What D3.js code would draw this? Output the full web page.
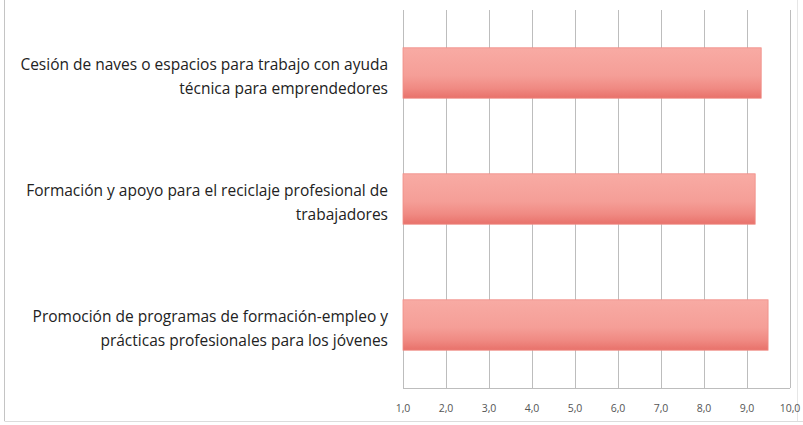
<!DOCTYPE html>
<html>
<head>
<meta charset="utf-8">
<script src="https://cdn.jsdelivr.net/npm/d3@7"></script>
<style>
body { margin: 0; background: #fff; }
svg { display: block; }
</style>
</head>
<body>
<svg id="chart" width="803" height="425"></svg>
<script>
// categories, top to bottom
var categories = [
  ["Cesión de naves o espacios para trabajo con ayuda", "técnica para emprendedores"],
  ["Formación y apoyo para el reciclaje profesional de", "trabajadores"],
  ["Promoción de programas de formación-empleo y", "prácticas profesionales para los jóvenes"]
];
var values = [9.33, 9.19, 9.49];
var ticks = [1, 2, 3, 4, 5, 6, 7, 8, 9, 10];

var svg = d3.select("#chart");
var plotLeft = 403, plotRight = 790, plotTop = 10, plotBottom = 388;

var x = d3.scaleLinear().domain([1, 10]).range([plotLeft, plotRight]);
var y = d3.scaleBand().domain(d3.range(categories.length)).range([plotTop, plotBottom]).paddingInner(0.6).paddingOuter(0.3);

// frame lines of the pasted picture
svg.append("line").attr("x1", 4.5).attr("x2", 4.5).attr("y1", 0).attr("y2", 421)
  .attr("stroke", "#c4c4c4");
svg.append("line").attr("x1", 4.5).attr("x2", 803).attr("y1", 421.5).attr("y2", 421.5)
  .attr("stroke", "#dcdcdc");
svg.append("line").attr("x1", 797.5).attr("x2", 797.5).attr("y1", 0).attr("y2", 421)
  .attr("stroke", "#e6e6e6");

var defs = svg.append("defs");
var grad = defs.append("linearGradient").attr("id", "barGrad")
  .attr("x1", 0).attr("y1", 0).attr("x2", 0).attr("y2", 1);
grad.append("stop").attr("offset", "0%").attr("stop-color", "#f8aba4");
grad.append("stop").attr("offset", "55%").attr("stop-color", "#f59e97");
grad.append("stop").attr("offset", "80%").attr("stop-color", "#f08a83");
grad.append("stop").attr("offset", "100%").attr("stop-color", "#e8716a");

// vertical gridlines
svg.append("g").selectAll("line").data(ticks).enter().append("line")
  .attr("x1", function(d){ return Math.round(x(d)) + 0.5; })
  .attr("x2", function(d){ return Math.round(x(d)) + 0.5; })
  .attr("y1", plotTop).attr("y2", plotBottom)
  .attr("stroke", "#bdbdbd");

// bottom axis line
svg.append("line").attr("x1", plotLeft).attr("x2", plotRight)
  .attr("y1", plotBottom + 0.5).attr("y2", plotBottom + 0.5).attr("stroke", "#bdbdbd");

// bars
svg.append("g").selectAll("rect").data(values).enter().append("rect")
  .attr("x", x(1))
  .attr("y", function(d, i){ return y(i); })
  .attr("width", function(d){ return x(d) - x(1); })
  .attr("height", y.bandwidth())
  .attr("fill", "url(#barGrad)")
  .attr("stroke", "#f08d86")
  .attr("stroke-width", 0.8);

// category labels
var lab = svg.append("g").selectAll("text").data(categories).enter().append("text")
  .attr("text-anchor", "end")
  .attr("font-family", "'Open Sans', 'Liberation Sans', sans-serif")
  .attr("font-size", 15.5)
  .attr("fill", "#222");
lab.selectAll("tspan").data(function(d, i){ return d.map(function(t, j){ return {t: t, i: i, j: j}; }); })
  .enter().append("tspan")
  .attr("x", 388)
  .attr("y", function(d){ return y(d.i) + y.bandwidth() / 2 - 3 + d.j * 23.5; })
  .text(function(d){ return d.t; });

// tick labels
svg.append("g").selectAll("text").data(ticks).enter().append("text")
  .attr("x", function(d){ return x(d); })
  .attr("y", 412)
  .attr("text-anchor", "middle")
  .attr("font-family", "'Open Sans', 'Liberation Sans', sans-serif")
  .attr("font-size", 10.5)
  .attr("fill", "#555")
  .text(function(d){ return d3.format(".1f")(d).replace(".", ","); });
</script>
</body>
</html>
